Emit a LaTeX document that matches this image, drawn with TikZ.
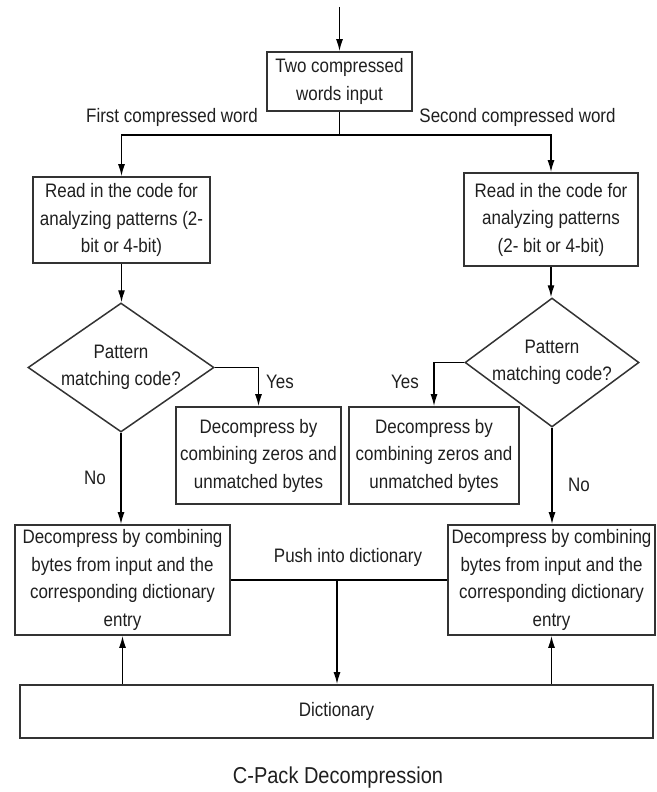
\documentclass[tikz,border=0pt]{standalone}
\usepackage{fontspec}
\setmainfont{Liberation Sans}[FakeStretch=0.87]
\usetikzlibrary{arrows.meta,shapes.geometric}
\begin{document}
\begin{tikzpicture}[x=1pt,y=-1pt,
  txt/.style={font=\fontsize{19.5}{27.5}\selectfont, text=black!88, align=center, inner sep=0pt},
  box/.style={txt, draw=black!80, line width=1.8pt, rectangle},
  dia/.style={draw=black!80, line width=1.5pt, diamond, inner sep=0pt},
  conn/.style={line width=1.3pt, draw=black},
  arr/.style={conn, -{Latex[length=12pt,width=7pt]}}]
\useasboundingbox (0,0) rectangle (656,792);

% boxes
\node[box, minimum width=145pt, minimum height=59pt] (top) at (339.5,81.5) {Two compressed\\words input};
\node[box, minimum width=177pt, minimum height=86pt] (readL) at (121.5,220) {Read in the code for\\analyzing patterns (2-\\bit or 4-bit)};
\node[box, minimum width=174pt, minimum height=93pt] (readR) at (551,219.5) {Read in the code for\\analyzing patterns\\(2- bit or 4-bit)};

\node[dia, minimum width=186pt, minimum height=129pt,
  label={[txt]center:Pattern\\matching code?}] (dL) at (121,367.5) {};
\node[dia, minimum width=174pt, minimum height=129pt,
  label={[txt]center:Pattern\\matching code?}] (dR) at (552,362.5) {};

\node[box, minimum width=165pt, minimum height=97pt] (zL) at (258.5,455.5) {Decompress by\\combining zeros and\\unmatched bytes};
\node[box, minimum width=170pt, minimum height=97pt] (zR) at (434,455.5) {Decompress by\\combining zeros and\\unmatched bytes};

\node[box, minimum width=215pt, minimum height=110pt] (decL) at (122.5,580) {Decompress by combining\\bytes from input and the\\corresponding dictionary\\entry};
\node[box, minimum width=207pt, minimum height=110pt] (decR) at (551.5,580) {Decompress by combining\\bytes from input and the\\corresponding dictionary\\entry};

\node[box, minimum width=633pt, minimum height=53pt] (dict) at (336.5,711.5) {Dictionary};

% labels
\node[txt] (lFirst) at (172,117) {First compressed word};
\node[txt] (lSecond) at (517.5,117) {Second compressed word};
\node[txt] (yesL) at (280,382) {Yes};
\node[txt] (yesR) at (405,382) {Yes};
\node[txt] (noL) at (95,478) {No};
\node[txt] (noR) at (579,485) {No};
\node[txt] (push) at (348,557) {Push into dictionary};
\node[txt, font=\fontsize{23}{27}\selectfont] (title) at (338,778) {C-Pack Decompression};

% connectors
\coordinate (in) at (339.5,7);
\coordinate (split) at (339.5,135);
\draw[arr] (in) -- (top.north);
\draw[conn] (top.south) -- (split);
\draw[arr] (split) -| (readL.north);
\draw[arr] (split) -| (readR.north);
\draw[arr] (readL.south) -- (readL.south |- dL.north);
\draw[arr] (readR.south) -- (readR.south |- dR.north);
\draw[arr] (dL.east) -| (zL.north);
\draw[arr] (dR.west) -| (zR.north);
\draw[arr] (dL.south) -- (dL.south |- decL.north);
\draw[arr] (dR.south) -- (dR.south |- decR.north);
\draw[conn] (decL.east) -- (decR.west);
\coordinate (mid) at (337,580);
\draw[arr] (mid) -- (mid |- dict.north);
\draw[arr] (decL.south |- dict.north) -- (decL.south);
\draw[arr] (decR.south |- dict.north) -- (decR.south);
\end{tikzpicture}
\end{document}
